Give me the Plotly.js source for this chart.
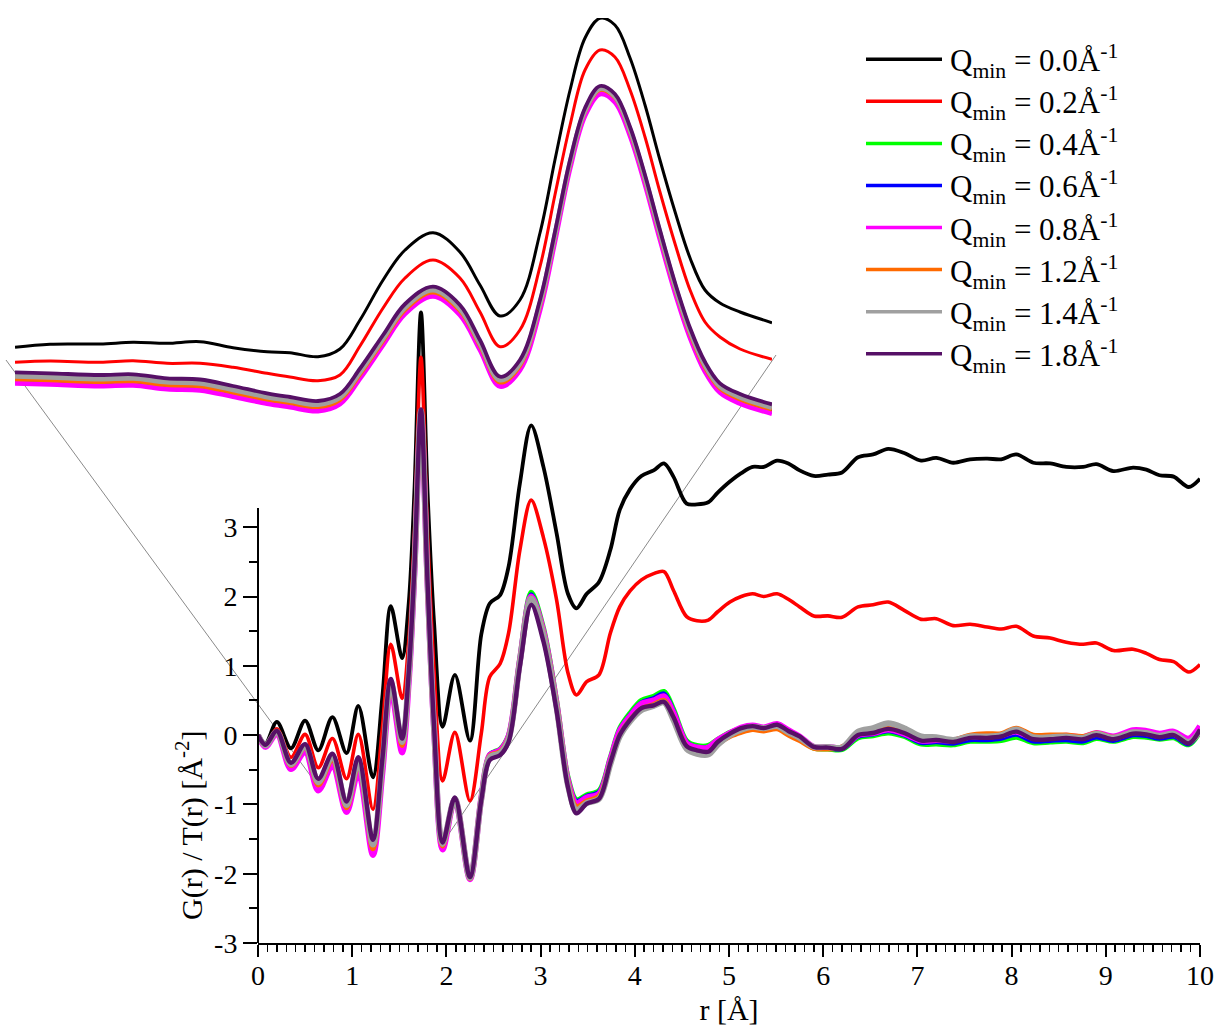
<!DOCTYPE html>
<html><head><meta charset="utf-8">
<script src="https://cdn.plot.ly/plotly-3.0.1.min.js"></script>
<style>html,body{margin:0;padding:0;background:#fff}</style>
</head><body><div id="chart" style="width:1218px;height:1026px"></div>
<script>
// ---- main panel data: r [Å] and G(r)/T(r) [Å^-2] ----
const r = [0,0.08,0.20,0.35,0.50,0.64,0.79,0.94,1.065,1.22,1.32,1.41,1.53,1.60,1.66,1.73,1.80,1.87,1.96,2.09,2.25,2.37,2.46,2.57,2.66,2.78,2.90,3.03,3.17,3.29,3.38,3.49,3.62,3.74,3.84,3.95,4.07,4.20,4.31,4.41,4.55,4.66,4.78,4.88,5.01,5.13,5.25,5.37,5.51,5.63,5.75,5.90,6.05,6.20,6.37,6.53,6.69,6.86,7.04,7.20,7.38,7.56,7.74,7.89,8.05,8.23,8.41,8.58,8.76,8.90,9.08,9.29,9.43,9.57,9.72,9.88,10.0];

const gQ00 = [0,-0.12,0.19,-0.19,0.21,-0.22,0.26,-0.26,0.42,-0.61, 0.55,1.86,1.11,1.9,3.5,6.10,3.5,1.6,0.12,0.87, -0.08,1.45,1.90,2.02,2.43,3.63,4.47,3.87,2.91,2.04, 1.83,2.04,2.21,2.67,3.25,3.55,3.74,3.82,3.92,3.73, 3.34,3.33,3.36,3.50,3.66,3.78,3.87,3.87,3.96,3.92, 3.82,3.74,3.76,3.79,4.01,4.05,4.13,4.07,3.96,4.00, 3.93,3.98,3.99,3.98,4.05,3.93,3.92,3.87,3.87,3.91, 3.81,3.86,3.83,3.75,3.73,3.58,3.70];
const gQ02 = [0,-0.14,0.09,-0.32,0.01,-0.47,-0.05,-0.63,0.01,-1.07, 0.1,1.31,0.53,1.35,2.9,5.45,2.9,0.9,-0.66,0.04, -0.95,0.02,0.84,1.03,1.47,2.67,3.39,2.85,1.95,0.9, 0.58,0.77,0.87,1.47,1.85,2.08,2.24,2.33,2.36,2.09, 1.71,1.65,1.66,1.78,1.92,2.0,2.04,2.0,2.04,1.96, 1.85,1.72,1.72,1.70,1.85,1.88,1.92,1.80,1.67,1.68, 1.58,1.60,1.56,1.53,1.57,1.43,1.40,1.34,1.31,1.33, 1.22,1.24,1.18,1.09,1.06,0.91,1.02];
const gQ04 = [0,-0.16,0.03,-0.46,-0.21,-0.77,-0.41,-1.08,-0.5,-1.68, -0.5,0.70,-0.20,0.8,2.35,4.65,2.2,0.08,-1.62,-0.93, -2.07,-0.90,-0.28,-0.20,0.0,1.12,2.06,1.55,0.5,-0.60, -0.93,-0.86,-0.80,-0.32,0.1,0.32,0.5,0.56,0.63,0.38, -0.08,-0.15,-0.15,-0.06,0.04,0.10,0.13,0.10,0.15,0.06, -0.04,-0.19,-0.20,-0.21,-0.04,-0.01,0.03,-0.02,-0.13,-0.13, -0.14,-0.09,-0.09,-0.08,-0.03,-0.11,-0.10,-0.09,-0.11,-0.05, -0.09,-0.02,-0.03,-0.06,-0.04,-0.14,0.05];
const gQ06 = [0,-0.16,0.03,-0.47,-0.22,-0.78,-0.42,-1.09,-0.51,-1.70, -0.52,0.69,-0.22,0.78,2.34,4.64,2.19,0.07,-1.63,-0.92, -2.07,-0.90,-0.28,-0.21,-0.01,1.1,2.03,1.52,0.47,-0.63, -0.95,-0.88,-0.82,-0.34,0.08,0.29,0.47,0.53,0.60,0.35, -0.10,-0.17,-0.17,-0.07,0.03,0.10,0.13,0.10,0.15,0.06, -0.03,-0.18,-0.19,-0.20,-0.02,0.01,0.06,0.0,-0.11,-0.10, -0.12,-0.07,-0.07,-0.05,0.01,-0.09,-0.08,-0.07,-0.09,-0.03, -0.08,0.0,-0.01,-0.05,-0.02,-0.13,0.06];
const gQ08 = [0,-0.17,0.02,-0.49,-0.24,-0.80,-0.44,-1.11,-0.53,-1.73, -0.55,0.67,-0.25,0.76,2.33,4.63,2.18,0.06,-1.65,-0.93, -2.08,-0.91,-0.29,-0.22,-0.02,1.08,2.0,1.5,0.45,-0.65, -0.98,-0.9,-0.85,-0.36,0.06,0.27,0.45,0.5,0.56,0.32, -0.12,-0.18,-0.18,-0.07,0.03,0.11,0.14,0.11,0.16,0.07, -0.02,-0.17,-0.17,-0.18,0.0,0.03,0.08,0.02,-0.08,-0.07, -0.08,-0.02,-0.01,0.0,0.05,-0.04,-0.03,-0.01,-0.03,0.03, -0.02,0.07,0.06,0.02,0.05,-0.05,0.13];
const gQ12 = [0,-0.15,0.04,-0.44,-0.18,-0.72,-0.36,-1.05,-0.44,-1.64, -0.46,0.73,-0.15,0.82,2.36,4.66,2.18,0.07,-1.6,-0.93, -2.07,-0.92,-0.30,-0.24,-0.04,1.07,1.98,1.48,0.44,-0.68, -1.03,-0.95,-0.88,-0.40,0.0,0.22,0.38,0.44,0.50,0.25, -0.17,-0.24,-0.25,-0.13,-0.02,0.04,0.08,0.06,0.09,0.0, -0.08,-0.19,-0.20,-0.17,0.02,0.07,0.12,0.07,-0.04,-0.05, -0.07,0.0,0.02,0.02,0.10,0.0,0.0,0.0,-0.02,0.03, -0.03,0.04,0.03,-0.01,0.01,-0.11,0.06];
const gQ14 = [0,-0.15,0.05,-0.42,-0.16,-0.68,-0.31,-1.01,-0.38,-1.58, -0.42,0.76,-0.10,0.85,2.38,4.68,2.2,0.08,-1.57,-0.92, -2.06,-0.93,-0.32,-0.26,-0.06,1.05,1.97,1.45,0.4,-0.72, -1.08,-0.98,-0.92,-0.42,-0.02,0.2,0.36,0.42,0.47,0.22, -0.2,-0.27,-0.28,-0.14,0.0,0.08,0.12,0.10,0.13,0.04, -0.04,-0.17,-0.17,-0.18,0.05,0.10,0.17,0.1,-0.02,-0.03, -0.07,-0.02,-0.02,0.0,0.08,-0.03,-0.03,-0.02,-0.04,0.02, -0.04,0.04,0.03,-0.01,0.02,-0.1,0.06];
const gQ18 = [0,-0.14,0.06,-0.40,-0.13,-0.63,-0.27,-0.96,-0.32,-1.51, -0.35,0.81,-0.05,0.9,2.4,4.70,2.2,0.1,-1.55,-0.90, -2.05,-0.94,-0.36,-0.29,-0.10,0.99,1.88,1.35,0.35,-0.75, -1.13,-0.99,-0.92,-0.40,0.0,0.22,0.39,0.43,0.48,0.26, -0.16,-0.22,-0.24,-0.10,0.02,0.10,0.13,0.10,0.15,0.06, -0.02,-0.17,-0.18,-0.20,0.0,0.03,0.09,0.03,-0.08,-0.07, -0.10,-0.04,-0.04,-0.02,0.05,-0.06,-0.06,-0.04,-0.06,0.0, -0.06,0.02,0.01,-0.03,0.0,-0.12,0.08];

// ---- inset (magnified view, arbitrary units) ----
const insetX = [0,0.185,0.449,0.624,0.803,0.978,1.152,1.332,1.453,1.601, 1.717,1.823,1.945,2.061,2.209,2.351,2.457,2.563,2.668,2.774, 2.853,2.933,3.012,3.091,3.170,3.250,3.329,3.408,3.488,3.567, 3.646,3.725,3.831,4.0];
const insQ00 = [0.727,0.757,0.76,0.777,0.767,0.783,0.723,0.683,0.673,0.633, 0.71,1.0,1.40,1.70,1.873,1.68,1.35,1.04,1.20,1.87, 2.60,3.30,3.82,4.017,3.95,3.62,3.15,2.60,2.08,1.62, 1.30,1.17,1.08,0.973];
const insQ02 = [0.577,0.59,0.577,0.593,0.567,0.567,0.527,0.467,0.43,0.393, 0.45,0.74,1.12,1.42,1.60,1.42,1.08,0.733,0.90,1.533, 2.25,2.95,3.50,3.70,3.63,3.30,2.83,2.28,1.76,1.30, 0.98,0.83,0.71,0.607];
const insQ04 = [0.387,0.377,0.36,0.367,0.33,0.318,0.255,0.185,0.15,0.11, 0.18,0.437,0.772,1.082,1.258,1.072,0.722,0.357,0.522,1.122, 1.81,2.54,3.067,3.287,3.207,2.865,2.38,1.828,1.295,0.845, 0.505,0.297,0.187,0.087];
const insQ06 = [0.382,0.372,0.355,0.362,0.325,0.313,0.25,0.18,0.145,0.105, 0.175,0.432,0.767,1.077,1.253,1.067,0.717,0.352,0.517,1.117, 1.805,2.535,3.062,3.282,3.202,2.86,2.375,1.823,1.29,0.84, 0.50,0.292,0.182,0.082];
const insQ08 = [0.367,0.357,0.34,0.347,0.31,0.298,0.235,0.165,0.13,0.09, 0.16,0.417,0.752,1.062,1.238,1.052,0.702,0.337,0.50,1.10, 1.79,2.52,3.045,3.26,3.18,2.845,2.36,1.808,1.275,0.825, 0.485,0.275,0.165,0.065];
const insQ12 = [0.407,0.397,0.38,0.387,0.35,0.338,0.275,0.205,0.17,0.13, 0.2,0.455,0.79,1.10,1.275,1.09,0.74,0.375,0.54,1.14, 1.83,2.555,3.08,3.30,3.22,2.88,2.395,1.845,1.313,0.863, 0.523,0.315,0.205,0.105];
const insQ14 = [0.437,0.427,0.41,0.417,0.38,0.368,0.303,0.23,0.195,0.155, 0.225,0.48,0.815,1.125,1.30,1.115,0.765,0.40,0.565,1.167, 1.85,2.575,3.095,3.315,3.235,2.90,2.418,1.868,1.338,0.888, 0.548,0.335,0.228,0.125];
const insQ18 = [0.477,0.467,0.45,0.457,0.417,0.405,0.34,0.267,0.23,0.19, 0.26,0.515,0.85,1.16,1.333,1.15,0.80,0.433,0.60,1.20, 1.88,2.60,3.12,3.34,3.26,2.93,2.45,1.90,1.37,0.92, 0.58,0.367,0.26,0.157];

// ---- labels & styling ----
const qLabels = ['0.0','0.2','0.4','0.6','0.8','1.2','1.4','1.8'];
const colors = ['#000000','#ff0000','#00ff00','#0000ff','#ff00ff','#ff6a00','#a0a0a0','#561066'];
const mainWidths = [3.8,3.6,5,4.5,6,5,6,4.4];
const insetWidths = [3,3,4,4,5,4,5,3.8];
const yTicks = [-3,-2,-1,0,1,2,3];
const yMinor = [-2.5,-1.5,-0.5,0.5,1.5,2.5];

const mainSeries = [gQ00,gQ02,gQ04,gQ06,gQ08,gQ12,gQ14,gQ18];
const insetSeries = [insQ00,insQ02,insQ04,insQ06,insQ08,insQ12,insQ14,insQ18];

const traces = [];
mainSeries.forEach((ys,i)=>{
  traces.push({x:r, y:ys, type:'scatter', mode:'lines', xaxis:'x', yaxis:'y',
    line:{color:colors[i], width:mainWidths[i], shape:'spline', smoothing:0.9},
    name:'Q<sub>min</sub> = '+qLabels[i]+'Å<sup>-1</sup>', showlegend:false, hoverinfo:'skip'});
});
insetSeries.forEach((ys,i)=>{
  traces.push({x:insetX, y:ys, type:'scatter', mode:'lines', xaxis:'x2', yaxis:'y2',
    line:{color:colors[i], width:insetWidths[i], shape:'spline', smoothing:1},
    showlegend:false, hoverinfo:'skip'});
});

// geometry helpers (paper coords): plot area px x 10..1200, y 10..943
const px2paperX = p => (p-10)/1190;
const px2paperY = p => (943-p)/933;

const shapes = [
  {type:'line', xref:'paper', yref:'paper', x0:px2paperX(258), x1:px2paperX(258), y0:0, y1:px2paperY(508), line:{color:'#000', width:2}},
  {type:'line', xref:'paper', yref:'paper', layer:'below', x0:px2paperX(6), y0:px2paperY(360), x1:px2paperX(318), y1:px2paperY(786), line:{color:'#8a8a8a', width:1}},
  {type:'line', xref:'paper', yref:'paper', layer:'below', x0:px2paperX(776), y0:px2paperY(355), x1:px2paperX(446), y1:px2paperY(838), line:{color:'#8a8a8a', width:1}}
];
const annotations = [
  {xref:'paper', yref:'paper', x:px2paperX(189), y:px2paperY(826), text:'G(r) / T(r) [Å<sup>-2</sup>]', textangle:-90, showarrow:false, xanchor:'center', yanchor:'middle', font:{size:30}}
];
qLabels.forEach((q,i)=>{
  const py = 59.3 + 42.06*i;
  shapes.push({type:'line', xref:'paper', yref:'paper', x0:px2paperX(866), x1:px2paperX(942), y0:px2paperY(py), y1:px2paperY(py), line:{color:colors[i], width:3.5}});
  annotations.push({xref:'paper', yref:'paper', x:px2paperX(948), y:px2paperY(py+2), xanchor:'left', yanchor:'middle', showarrow:false,
    text:'Q<sub>min</sub> = '+q+'Å<sup>-1</sup>', font:{size:31}});
});

const layout = {
  width:1218, height:1026,
  margin:{l:10, r:18, t:10, b:83},
  paper_bgcolor:'#ffffff', plot_bgcolor:'rgba(0,0,0,0)',
  showlegend:false,
  font:{family:'"Liberation Serif", "Times New Roman", serif', color:'#000', size:28},
  xaxis:{domain:[px2paperX(258),1], range:[0,10], anchor:'y',
    showline:true, linecolor:'#000', linewidth:2, mirror:false,
    ticks:'outside', ticklen:12, tickwidth:2, tickcolor:'#000', tickmode:'linear', tick0:0, dtick:1,
    ticklabelstandoff:-6,
    minor:{ticks:'outside', dtick:0.1, tick0:0, ticklen:7, tickwidth:1.5, tickcolor:'#000', showgrid:false},
    showgrid:false, zeroline:false, tickfont:{size:28},
    title:{text:'r [Å]', font:{size:30}, standoff:10}},
  yaxis:{domain:[0,1], range:[-3, -3+933/69.3], anchor:'x',
    showline:false, ticks:'outside', ticklen:14, tickwidth:2, tickcolor:'#000',
    tickmode:'array', tickvals:yTicks, ticktext:yTicks.map(String),
    minor:{ticks:'outside', tickmode:'array', tickvals:yMinor, ticklen:8, tickwidth:2, tickcolor:'#000', showgrid:false},
    showgrid:false, zeroline:false, tickfont:{size:28}},
  xaxis2:{domain:[px2paperX(15), px2paperX(772)], range:[0,4], anchor:'y2', visible:false},
  yaxis2:{domain:[px2paperY(420), px2paperY(18)], range:[0,4.02], anchor:'x2', visible:false},
  shapes:shapes, annotations:annotations
};

Plotly.newPlot('chart', traces, layout, {displayModeBar:false, staticPlot:true});
</script></body></html>
